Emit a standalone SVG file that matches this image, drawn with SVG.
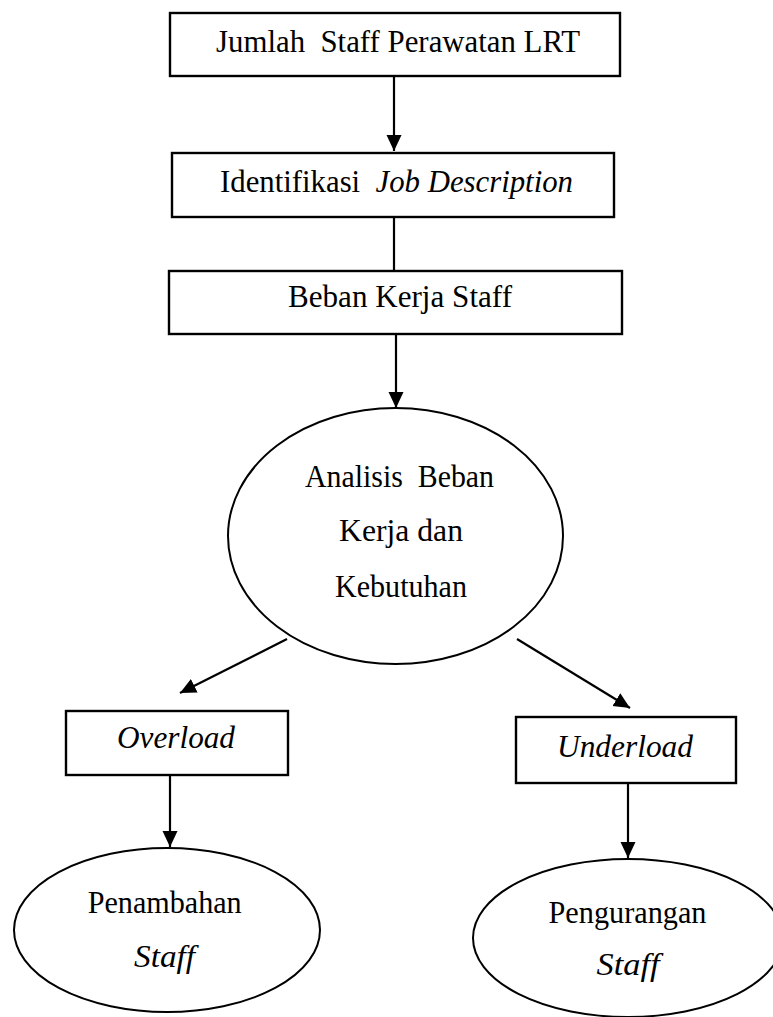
<svg xmlns="http://www.w3.org/2000/svg" width="773" height="1017" viewBox="0 0 773 1017">
<style>
.box{fill:#fff;stroke:#000;stroke-width:2.4}
.ell{fill:#fff;stroke:#000;stroke-width:2}
.t{font-family:"Liberation Serif","Times New Roman",serif;font-size:31px;fill:#000;text-anchor:middle;white-space:pre}
.e{font-size:32px}
.i{font-style:italic}
.c{stroke:#000;stroke-width:2.2;fill:none}
</style>
<defs>
<marker id="ah" markerUnits="userSpaceOnUse" markerWidth="18" markerHeight="16" refX="16" refY="7.5" orient="auto">
<path d="M0,0 L16,7.5 L0,15 z" fill="#000"/>
</marker>
</defs>
<g id="connectors">
<line class="c" x1="394" y1="76" x2="394" y2="151" marker-end="url(#ah)"/>
<line class="c" x1="394" y1="217" x2="394" y2="271"/>
<line class="c" x1="396" y1="334" x2="396" y2="408" marker-end="url(#ah)"/>
<line class="c" x1="287" y1="639" x2="180" y2="693" marker-end="url(#ah)"/>
<line class="c" x1="517" y1="639" x2="630" y2="708" marker-end="url(#ah)"/>
<line class="c" x1="170" y1="775" x2="170" y2="847" marker-end="url(#ah)"/>
<line class="c" x1="628" y1="783" x2="628" y2="858" marker-end="url(#ah)"/>
</g>
<g id="n1">
<rect class="box" x="170" y="13" width="450" height="63"/>
<text class="t" x="398" y="52" textLength="364" lengthAdjust="spacingAndGlyphs">Jumlah  Staff Perawatan LRT</text>
</g>
<g id="n2">
<rect class="box" x="172" y="153" width="442" height="64"/>
<text class="t" x="396.5" y="192" textLength="353" lengthAdjust="spacingAndGlyphs">Identifikasi  <tspan class="i">Job Description</tspan></text>
</g>
<g id="n3">
<rect class="box" x="169" y="271" width="453" height="63"/>
<text class="t" x="400" y="307" textLength="224" lengthAdjust="spacingAndGlyphs">Beban Kerja Staff</text>
</g>
<g id="n4">
<ellipse class="ell" cx="395.5" cy="536" rx="167.5" ry="128"/>
<text class="t e" x="399.5" y="487" textLength="189" lengthAdjust="spacingAndGlyphs">Analisis  Beban</text>
<text class="t e" x="401" y="541" textLength="124" lengthAdjust="spacingAndGlyphs">Kerja dan</text>
<text class="t e" x="401" y="597" textLength="132" lengthAdjust="spacingAndGlyphs">Kebutuhan</text>
</g>
<g id="n5">
<rect class="box" x="66" y="711" width="222" height="64"/>
<text class="t i" x="176" y="748" textLength="118" lengthAdjust="spacingAndGlyphs">Overload</text>
</g>
<g id="n6">
<rect class="box" x="516" y="717" width="220" height="66"/>
<text class="t i" x="625" y="757" textLength="136" lengthAdjust="spacingAndGlyphs">Underload</text>
</g>
<g id="n7">
<ellipse class="ell" cx="167" cy="930" rx="153" ry="82"/>
<text class="t e" x="164.7" y="913" textLength="154" lengthAdjust="spacingAndGlyphs">Penambahan</text>
<text class="t e i" x="164.5" y="967" textLength="61" lengthAdjust="spacingAndGlyphs">Staff</text>
</g>
<g id="n8">
<ellipse class="ell" cx="628" cy="938" rx="155" ry="79"/>
<text class="t e" x="627.5" y="923" textLength="158" lengthAdjust="spacingAndGlyphs">Pengurangan</text>
<text class="t e i" x="628" y="975" textLength="63" lengthAdjust="spacingAndGlyphs">Staff</text>
</g>
</svg>
